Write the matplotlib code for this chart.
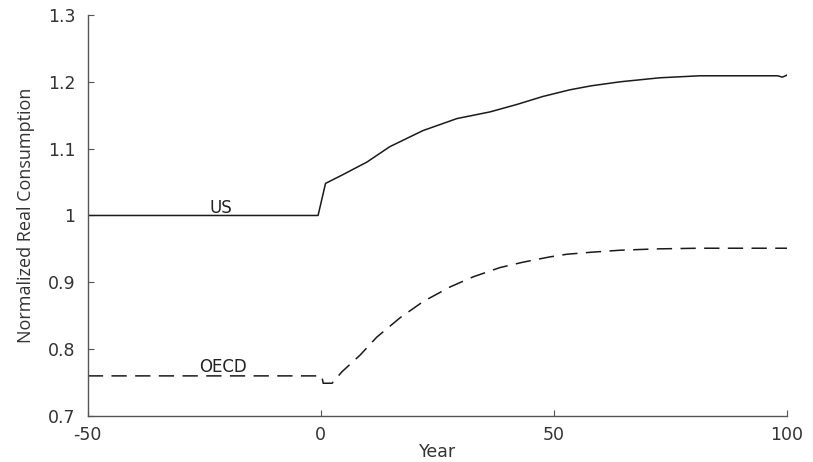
import matplotlib
matplotlib.use("Agg")
import matplotlib.pyplot as plt

us_years = [-50, -0.6, 1.0, 4.7, 9.9, 14.8, 21.9, 29.2, 36.3, 42.0, 47.6, 53.4, 58.0, 64.2, 72.7, 81.3, 90.0, 98.0, 99.0, 100.0]
us_vals  = [1.0, 1.0, 1.048, 1.061, 1.080, 1.103, 1.127, 1.145, 1.155, 1.166, 1.178, 1.188, 1.194, 1.200, 1.206, 1.209, 1.209, 1.209, 1.207, 1.210]

oecd_years = [-50, 0.2, 0.5, 2.4, 4.5, 8.4, 12.0, 17.0, 21.9, 27.7, 32.6, 38.4, 43.3, 49.1, 52.8, 58.0, 64.2, 72.0, 81.0, 100.0]
oecd_vals  = [0.76, 0.76, 0.749, 0.749, 0.766, 0.791, 0.818, 0.847, 0.871, 0.893, 0.908, 0.922, 0.930, 0.938, 0.942, 0.945, 0.948, 0.950, 0.951, 0.951]

xticks = [-50, 0, 50, 100]
xtick_labels = ["-50", "0", "50", "100"]
yticks = [0.7, 0.8, 0.9, 1.0, 1.1, 1.2, 1.3]
ytick_labels = ["0.7", "0.8", "0.9", "1", "1.1", "1.2", "1.3"]

fig = plt.figure(figsize=(8.13, 4.62), dpi=100)
ax = fig.add_axes([0.108, 0.0996, 0.860, 0.868])

ax.plot(us_years, us_vals, color="#1a1a1a", lw=1.1, linestyle="-")
ax.plot(oecd_years, oecd_vals, color="#1a1a1a", lw=1.1, linestyle=(0, (10, 5.5)))

ax.text(-21.5, 1.0105, "US", ha="center", va="center", fontsize=12, color="#222222")
ax.text(-21.0, 0.773, "OECD", ha="center", va="center", fontsize=12, color="#222222")

ax.set_xlim(-50, 100)
ax.set_ylim(0.7, 1.3)
ax.set_xticks(xticks)
ax.set_xticklabels(xtick_labels)
ax.set_yticks(yticks)
ax.set_yticklabels(ytick_labels)
for s in ["top", "right"]:
    ax.spines[s].set_visible(False)
for s in ["left", "bottom"]:
    ax.spines[s].set_color("#555555")
    ax.spines[s].set_linewidth(1.0)
ax.tick_params(direction="in", length=4, color="#555555", labelsize=12.5, labelcolor="#333333")
ax.tick_params(axis="y", pad=9)
ax.tick_params(axis="x", pad=7.5)

ax.set_xlabel("Year", fontsize=12.5, color="#333333", labelpad=-1)
ax.set_ylabel("Normalized Real Consumption", fontsize=13, color="#333333",
              family=["Open Sans", "DejaVu Sans"], labelpad=9)

fig.savefig("out.png", dpi=100)
